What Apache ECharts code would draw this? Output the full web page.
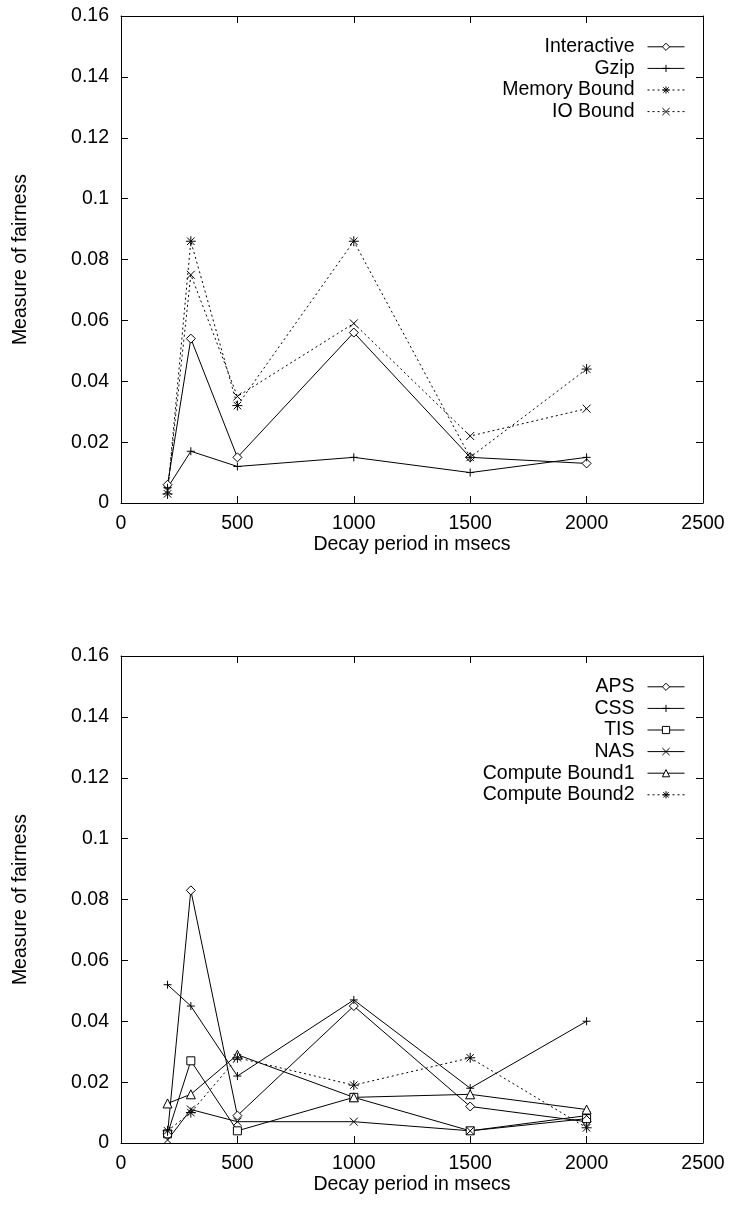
<!DOCTYPE html>
<html>
<head>
<meta charset="utf-8">
<title>Measure of fairness vs decay period</title>
<script src="https://cdn.jsdelivr.net/npm/echarts@6/dist/echarts.min.js"></script>
<style>
  html, body { margin: 0; padding: 0; background: #fff; }
  #chart { width: 731px; height: 1205px; }
</style>
</head>
<body>
<div id="chart"></div>
<script>
// Decay periods (msecs) sampled in both experiments
const decayPeriods = [200, 300, 500, 1000, 1500, 2000];

// Upper panel: fairness per workload
const interactive = [0.006, 0.054, 0.015, 0.056, 0.015, 0.013];
const gzip        = [0.005, 0.017, 0.012, 0.015, 0.010, 0.015];
const memoryBound = [0.003, 0.086, 0.032, 0.086, 0.015, 0.044];
const ioBound     = [0.004, 0.075, 0.035, 0.059, 0.022, 0.031];

// Lower panel: fairness per workload
const aps           = [0.003, 0.083, 0.009, 0.045, 0.012, 0.007];
const css           = [0.052, 0.045, 0.022, 0.047, 0.018, 0.040];
const tis           = [0.003, 0.027, 0.004, 0.015, 0.004, 0.008];
const nas           = [0.001, 0.011, 0.007, 0.007, 0.004, 0.009];
const computeBound1 = [0.013, 0.016, 0.029, 0.015, 0.016, 0.011];
const computeBound2 = [0.004, 0.010, 0.028, 0.019, 0.028, 0.005];

// Axis ranges and tick steps
const xRange = { min: 0, max: 2500, interval: 500 };
const yRange = { min: 0, max: 0.16, interval: 0.02 };

const FONT = 'Liberation Sans, Arial, Helvetica, sans-serif';
const FS = 19.5;

// Point-type glyphs (outlined, white-filled where closed)
const SYM_DIAMOND  = 'path://M4 0L8 4L4 8L0 4Z';
const SYM_PLUS     = 'path://M0 4H8M4 0V8';
const SYM_SQUARE   = 'path://M0 0H8V8H0Z';
const SYM_CROSS    = 'path://M0 0L8 8M8 0L0 8';
const SYM_TRIANGLE = 'path://M4 0L8 7H0Z';
const SYM_STAR     = 'path://M0 4H8M4 0V8M1 1L7 7M7 1L1 7';

const pairs = ys => decayPeriods.map((x, i) => [x, ys[i]]);

function makeSeries(name, ys, grid, symbol, size, dotted) {
  return {
    name: name,
    type: 'line',
    xAxisIndex: grid * 2,
    yAxisIndex: grid * 2,
    data: pairs(ys),
    symbol: symbol,
    symbolSize: size,
    showAllSymbol: true,
    lineStyle: { color: '#000', width: 1, type: dotted ? [2, 3] : 'solid' },
    itemStyle: { color: '#fff', borderColor: '#000', borderWidth: 1 },
    emphasis: { disabled: true },
    animation: false,
    z: 3
  };
}

function xAxes(grid) {
  const common = {
    type: 'value', gridIndex: grid,
    min: xRange.min, max: xRange.max, interval: xRange.interval,
    splitLine: { show: false },
    axisLine: { show: true, onZero: false, lineStyle: { color: '#000', width: 1 } },
    axisTick: { show: true, inside: true, length: 7, lineStyle: { color: '#000' } }
  };
  return [
    Object.assign({}, common, {
      position: 'bottom',
      name: 'Decay period in msecs',
      nameLocation: 'middle',
      nameGap: 32,
      nameTextStyle: { color: '#000', fontFamily: FONT, fontSize: FS },
      axisLabel: {
        color: '#000', fontFamily: FONT, fontSize: FS, margin: 11,
        formatter: v => String(v)
      }
    }),
    Object.assign({}, common, { position: 'top', axisLabel: { show: false } })
  ];
}

function yAxes(grid) {
  const common = {
    type: 'value', gridIndex: grid,
    min: yRange.min, max: yRange.max, interval: yRange.interval,
    splitLine: { show: false },
    axisLine: { show: true, onZero: false, lineStyle: { color: '#000', width: 1 } },
    axisTick: { show: true, inside: true, length: 7, lineStyle: { color: '#000' } }
  };
  return [
    Object.assign({}, common, {
      position: 'left',
      name: 'Measure of fairness',
      nameLocation: 'middle',
      nameGap: 90,
      nameTextStyle: { color: '#000', fontFamily: FONT, fontSize: FS },
      axisLabel: { color: '#000', fontFamily: FONT, fontSize: FS, margin: 12 }
    }),
    Object.assign({}, common, { position: 'right', axisLabel: { show: false } })
  ];
}

function legend(names, top) {
  return {
    data: names,
    orient: 'vertical',
    align: 'right',
    right: 46,
    top: top,
    padding: 0,
    itemWidth: 37,
    itemHeight: 9,
    itemGap: 0,
    selectedMode: false,
    itemStyle: { borderWidth: 1 },
    lineStyle: { width: 1 },
    textStyle: { color: '#000', fontFamily: FONT, fontSize: FS, lineHeight: 21.6, padding: [0, 8, 0, 0] }
  };
}

const chart = echarts.init(document.getElementById('chart'), null, { renderer: 'canvas' });

chart.setOption({
  backgroundColor: '#fff',
  animation: false,
  grid: [
    { left: 121, top: 16, width: 582, height: 487 },
    { left: 121, top: 656, width: 582, height: 487 }
  ],
  xAxis: [...xAxes(0), ...xAxes(1)],
  yAxis: [...yAxes(0), ...yAxes(1)],
  legend: [
    legend(['Interactive', 'Gzip', 'Memory Bound', 'IO Bound'], 36),
    legend(['APS', 'CSS', 'TIS', 'NAS', 'Compute Bound1', 'Compute Bound2'], 676)
  ],
  series: [
    makeSeries('Interactive', interactive, 0, SYM_DIAMOND, 9, false),
    makeSeries('Gzip', gzip, 0, SYM_PLUS, 8, false),
    makeSeries('Memory Bound', memoryBound, 0, SYM_STAR, 10, true),
    makeSeries('IO Bound', ioBound, 0, SYM_CROSS, 8, true),

    makeSeries('APS', aps, 1, SYM_DIAMOND, 9, false),
    makeSeries('CSS', css, 1, SYM_PLUS, 8, false),
    makeSeries('TIS', tis, 1, SYM_SQUARE, 8, false),
    makeSeries('NAS', nas, 1, SYM_CROSS, 8, false),
    makeSeries('Compute Bound1', computeBound1, 1, SYM_TRIANGLE, 9, false),
    makeSeries('Compute Bound2', computeBound2, 1, SYM_STAR, 10, true)
  ]
});
</script>
</body>
</html>
